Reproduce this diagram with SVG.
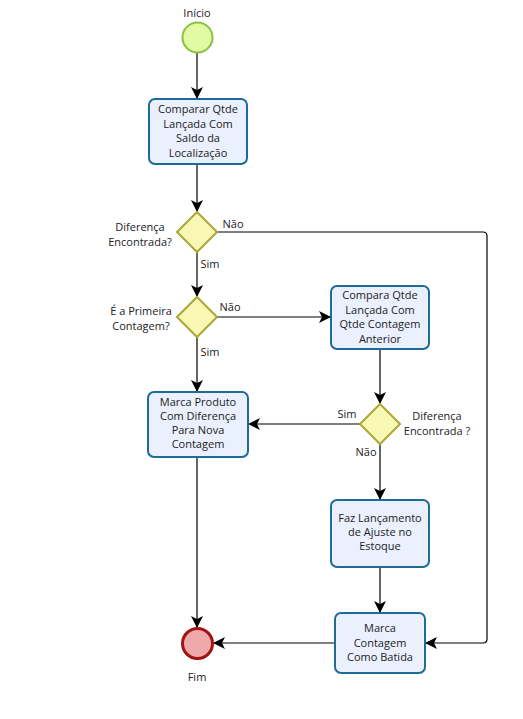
<svg xmlns="http://www.w3.org/2000/svg" width="523" height="719" viewBox="0 0 523 719">
<defs>
<style>
text{font-family:"Open Sans","DejaVu Sans",sans-serif;font-size:11px;fill:#222;text-anchor:middle}
.task{fill:#eaf0fd;stroke:#1d6c98;stroke-width:2}
.gw{fill:#f8f8b4;stroke:#a9a836;stroke-width:2}
.con{fill:none;stroke:#000;stroke-width:1.2}
</style>
<marker id="arr" viewBox="0 0 12 12" refX="11" refY="6" markerWidth="12" markerHeight="12" markerUnits="userSpaceOnUse" orient="auto">
<path d="M0,0 L12,6 L0,12 L3,6 z" fill="#000"/>
</marker>
</defs>
<rect width="523" height="719" fill="#fff"/>
<g id="connectors">
<path class="con" d="M197,53 V98" marker-end="url(#arr)"/>
<path class="con" d="M197,164 V211" marker-end="url(#arr)"/>
<path class="con" d="M197,252 V296" marker-end="url(#arr)"/>
<path class="con" d="M217,317 H330" marker-end="url(#arr)"/>
<path class="con" d="M217,232 H483 Q487,232 487,236 V639 Q487,643 483,643 H426" marker-end="url(#arr)"/>
<path class="con" d="M380,349 V403" marker-end="url(#arr)"/>
<path class="con" d="M360,424 H249" marker-end="url(#arr)"/>
<path class="con" d="M380,444 V499" marker-end="url(#arr)"/>
<path class="con" d="M380,567 V612" marker-end="url(#arr)"/>
<path class="con" d="M335,643 H214" marker-end="url(#arr)"/>
<path class="con" d="M197,337 V391" marker-end="url(#arr)"/>
<path class="con" d="M197,457 V627" marker-end="url(#arr)"/>
</g>
<g id="labels">
<text x="233" y="228">Não</text>
<text x="210" y="268">Sim</text>
<text x="230" y="311">Não</text>
<text x="210" y="356">Sim</text>
<text x="347" y="418">Sim</text>
<text x="366" y="456">Não</text>
</g>
<g id="start">
<circle cx="197.5" cy="37.5" r="15" fill="#e0fba4" stroke="#86c43e" stroke-width="2"/>
<text x="197" y="17">Início</text>
</g>
<g id="task1">
<rect class="task" x="149" y="99" width="98" height="65" rx="6"/>
<text x="198" y="113">Comparar Qtde</text>
<text x="198" y="128">Lançada Com</text>
<text x="198" y="142">Saldo da</text>
<text x="198" y="157">Localização</text>
</g>
<g id="gw1">
<path class="gw" d="M197,212 L217,232 L197,252 L177,232 z"/>
<text x="140" y="231">Diferença</text>
<text x="140" y="246">Encontrada?</text>
</g>
<g id="gw2">
<path class="gw" d="M197,297 L217,317 L197,337 L177,317 z"/>
<text x="141" y="315">É a Primeira</text>
<text x="141" y="330">Contagem?</text>
</g>
<g id="task2">
<rect class="task" x="331" y="286" width="98" height="63" rx="6"/>
<text x="380" y="299">Compara Qtde</text>
<text x="380" y="314">Lançada Com</text>
<text x="380" y="328">Qtde Contagem</text>
<text x="380" y="343">Anterior</text>
</g>
<g id="task3">
<rect class="task" x="148" y="392" width="100" height="65" rx="6"/>
<text x="198" y="406">Marca Produto</text>
<text x="198" y="420">Com Diferença</text>
<text x="198" y="434">Para Nova</text>
<text x="198" y="448">Contagem</text>
</g>
<g id="gw3">
<path class="gw" d="M380,404 L400,424 L380,444 L360,424 z"/>
<text x="437" y="420">Diferença</text>
<text x="437" y="435">Encontrada ?</text>
</g>
<g id="task4">
<rect class="task" x="331" y="500" width="98" height="67" rx="6"/>
<text x="380" y="522">Faz Lançamento</text>
<text x="380" y="536">de Ajuste no</text>
<text x="380" y="550">Estoque</text>
</g>
<g id="task5">
<rect class="task" x="335" y="613" width="90" height="60" rx="6"/>
<text x="380" y="632">Marca</text>
<text x="380" y="647">Contagem</text>
<text x="380" y="661">Como Batida</text>
</g>
<g id="end">
<circle cx="197.5" cy="643.5" r="15" fill="#eeaaaa" stroke="#a01414" stroke-width="3"/>
<text x="197" y="681">Fim</text>
</g>
</svg>
